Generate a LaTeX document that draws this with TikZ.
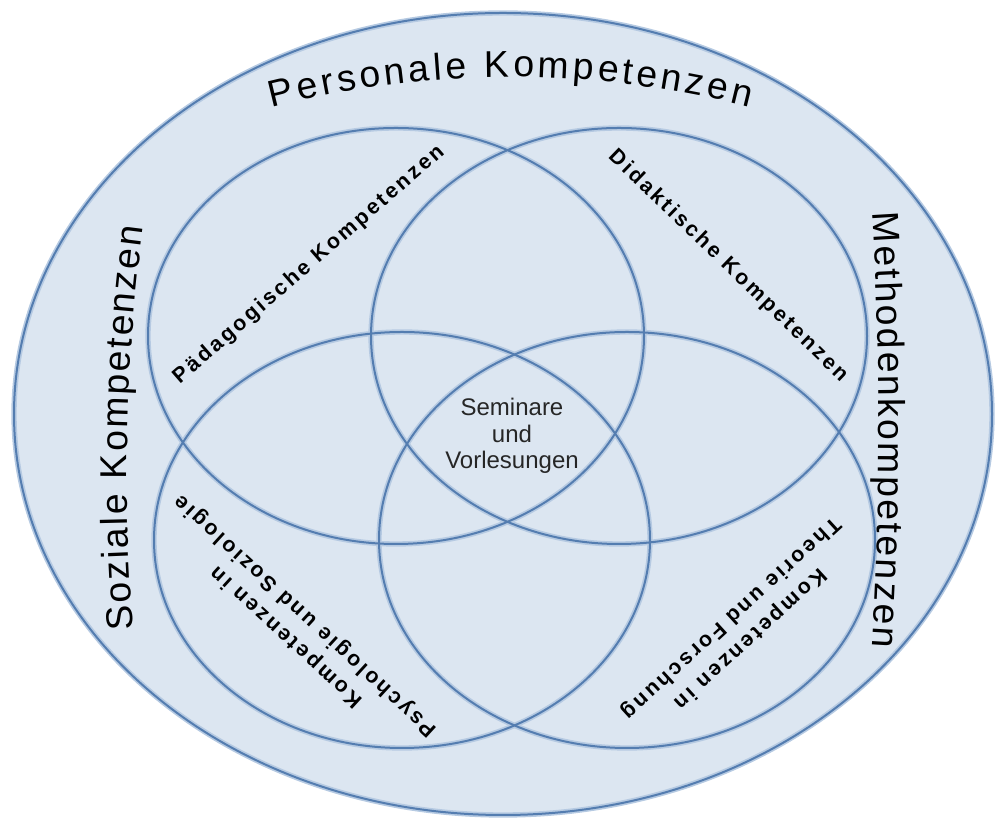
\documentclass[tikz,border=0pt]{standalone}
\usepackage{fontspec}
\setmainfont{Liberation Sans}
\newfontfamily\labelfont[LetterSpace=13]{Liberation Sans}
\usetikzlibrary{decorations.text}
\definecolor{venfill}{RGB}{220,230,241}
\definecolor{venline}{RGB}{84,125,176}
\definecolor{venglow}{RGB}{182,202,226}
\tikzset{
  ring/.style={draw=venline, line width=1.5pt},
  glow/.style={draw=venglow, line width=4pt},
  arealabel/.style={font=\labelfont\bfseries\fontsize{16}{21}\selectfont, align=center, inner sep=0pt},
  outerlabel/.style={decorate, decoration={text along path, text align={fit to path},
    text={|\fontsize{28}{34}\selectfont|#1}}}
}
\begin{document}
\begin{tikzpicture}[x=0.75pt, y=0.75pt]
\useasboundingbox (0,0) rectangle (996,824);
\fill[venfill] (503,410) ellipse [x radius=489, y radius=401];
\foreach \cx/\cy in {396/488, 619/488, 402/284, 627/284}
  \draw[glow] (\cx,\cy) ellipse [x radius=248, y radius=208];
\draw[glow] (503,410) ellipse [x radius=489, y radius=401];
\foreach \cx/\cy in {396/488, 619/488, 402/284, 627/284}
  \draw[ring] (\cx,\cy) ellipse [x radius=248, y radius=208];
\draw[ring] (503,410) ellipse [x radius=489, y radius=401];

\path[outerlabel=Personale Kompetenzen] (271.3,716.8) arc [start angle=104.35, end angle=75.7, radius=967];
\path[outerlabel=Soziale Kompetenzen] (133.3,194.1) arc [start angle=184.65, end angle=172.5, radius=1905];
\path[outerlabel=Methodenkompetenzen] (872,611) arc [start angle=3.695, end angle=-3.695, radius=3367];

\node[arealabel, rotate=41] (paed) at (309,559) {Pädagogische Kompetenzen};
\node[arealabel, rotate=-44] (dida) at (728,558) {Didaktische Kompetenzen};
\node[arealabel, rotate=137.5] (psych) at (296,198) {Kompetenzen in\\Psychologie und Soziologie};
\node[arealabel, rotate=-137.5] (theo) at (740,196) {Kompetenzen in\\Theorie und Forschung};
\node[align=center, text=black!85, font=\fontsize{18}{20}\selectfont] (sem) at (512,388) {Seminare\\und\\Vorlesungen};
\end{tikzpicture}
\end{document}
